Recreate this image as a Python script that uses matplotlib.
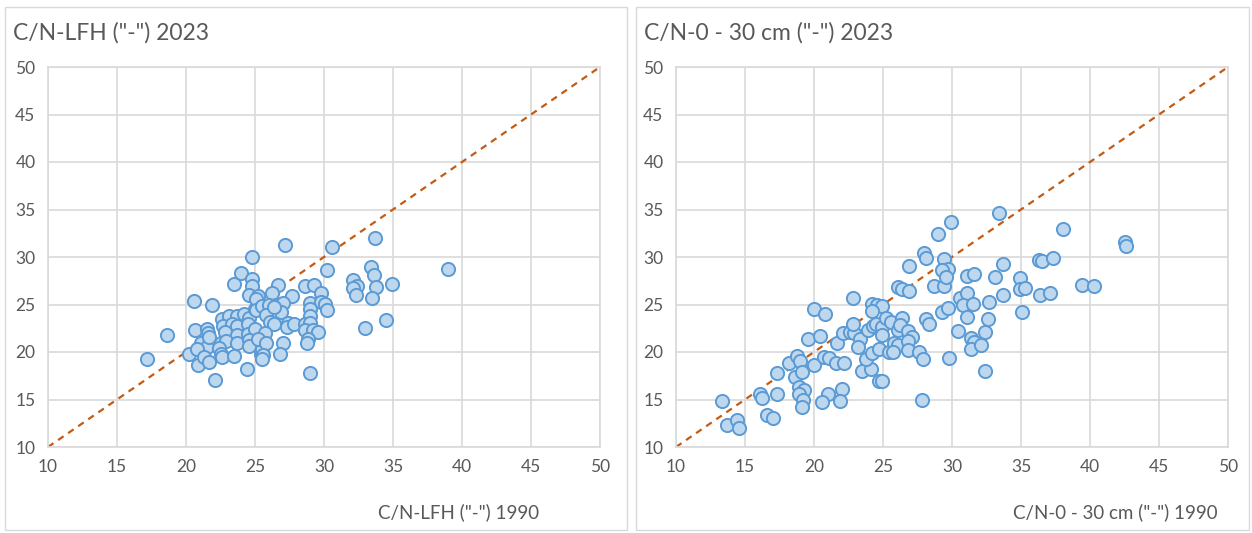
import matplotlib
matplotlib.use("Agg")
import matplotlib.pyplot as plt
from matplotlib.patches import Rectangle

plt.rcParams['font.family'] = ['Lato', 'DejaVu Sans']

# ---- data: left panel (C/N-LFH) ----
lfh_1990 = [17.2, 18.65, 20.2, 20.6, 20.65, 21.9, 20.85, 21.1, 21.5, 20.8,
            21.5, 21.6, 21.7, 21.3, 21.7, 22.1, 22.6, 23.1, 23.7, 24.2,
            24.6, 22.7, 23.3, 23.7, 24.5, 22.8, 23.7, 24.5, 25.0, 22.5,
            22.9, 22.4, 22.5, 22.6, 23.7, 24.6, 25.2, 24.6, 23.5, 25.4,
            25.5, 24.4, 23.45, 24.0, 24.75, 24.8, 24.8, 24.6, 25.2, 25.0,
            27.2, 30.6, 30.2, 26.7, 26.2, 27.7, 28.6, 29.3, 29.8, 29.0,
            29.8, 30.05, 30.2, 29.0, 29.0, 25.1, 25.1, 25.5, 26.0, 26.5,
            27.0, 25.8, 26.9, 26.4, 26.1, 26.4, 27.4, 27.3, 27.8, 28.6,
            29.0, 28.6, 29.2, 29.6, 28.85, 28.8, 25.7, 25.2, 25.8, 27.0,
            26.8, 25.6, 25.5, 29.0, 33.7, 32.1, 32.4, 32.1, 32.3, 33.4,
            33.6, 33.8, 33.5, 34.9, 33.0, 34.5, 39.0]
lfh_2023 = [19.3, 21.8, 19.75, 25.4, 22.3, 24.9, 18.6, 20.9, 20.5, 20.3,
            22.4, 22.0, 21.6, 19.5, 18.9, 17.1, 23.5, 23.8, 23.8, 23.95,
            23.6, 22.7, 22.9, 22.7, 22.9, 22.1, 21.75, 21.85, 22.45, 21.0,
            21.2, 20.45, 19.75, 19.5, 21.0, 21.3, 21.3, 20.6, 19.6, 19.75,
            20.3, 18.25, 27.2, 28.3, 30.0, 27.7, 26.9, 26.05, 25.9, 24.5,
            31.3, 31.1, 28.6, 27.1, 26.2, 25.9, 27.0, 27.1, 26.2, 25.2,
            25.3, 25.05, 24.4, 24.5, 23.8, 25.6, 24.4, 24.8, 25.0, 25.0,
            25.2, 23.9, 24.25, 24.7, 23.2, 23.0, 23.1, 22.6, 22.9, 23.0,
            23.1, 22.3, 22.3, 22.1, 21.4, 20.9, 22.05, 21.4, 20.9, 20.9,
            19.8, 19.7, 19.3, 17.8, 32.0, 27.6, 27.0, 26.7, 26.0, 28.9,
            28.1, 26.8, 25.7, 27.2, 22.55, 23.4, 28.7]

# ---- data: right panel (C/N 0-30 cm) ----
soil_1990 = [13.3, 13.7, 14.4, 14.6, 16.1, 16.2, 17.3, 16.6, 17.0, 17.3,
             18.2, 18.8, 19.0, 18.65, 19.1, 18.9, 19.3, 18.9, 19.2, 19.1,
             20.0, 20.7, 21.1, 21.6, 22.2, 21.0, 20.6, 22.0, 21.9, 19.6,
             20.4, 20.0, 20.8, 21.7, 22.1, 22.6, 22.9, 22.8, 22.8, 23.3,
             23.2, 23.5, 24.1, 23.8, 24.2, 24.7, 24.9, 23.9, 24.25, 24.5,
             24.9, 24.9, 24.2, 24.6, 24.9, 24.2, 25.2, 25.6, 24.7, 25.4,
             25.8, 26.1, 26.4, 26.1, 26.9, 26.9, 26.4, 26.2, 26.8, 27.1,
             26.1, 26.8, 26.8, 25.7, 27.6, 27.9, 27.8, 28.0, 28.1, 29.0,
             29.9, 28.7, 29.4, 29.4, 29.7, 29.3, 29.6, 28.1, 28.3, 29.3,
             29.7, 30.4, 29.8, 30.6, 31.1, 30.8, 31.5, 31.06, 31.06, 31.6,
             31.4, 31.6, 31.4, 32.1, 32.4, 32.7, 32.6, 32.4, 33.1, 33.7,
             33.4, 33.7, 34.9, 34.9, 35.3, 35.04, 36.3, 36.5, 37.3, 36.4,
             37.1, 38.05, 39.4, 40.3, 42.5, 42.6]
soil_2023 = [14.85, 12.3, 12.8, 12.0, 15.6, 15.2, 15.6, 13.4, 13.1, 17.8,
             18.85, 19.55, 19.1, 17.4, 17.9, 16.3, 16.05, 15.6, 15.0, 14.2,
             18.6, 19.45, 19.4, 18.85, 18.8, 15.6, 14.7, 16.15, 14.8, 21.4,
             21.7, 24.5, 24.0, 21.0, 22.0, 22.1, 22.0, 23.0, 25.7, 21.4,
             20.5, 18.0, 18.2, 19.3, 19.9, 17.0, 17.0, 22.3, 22.7, 22.9,
             22.6, 21.8, 25.1, 24.9, 24.8, 24.3, 23.6, 23.2, 20.3, 20.0,
             20.9, 26.8, 26.6, 22.3, 26.4, 29.1, 23.6, 22.8, 22.2, 21.6,
             20.7, 21.2, 20.2, 20.0, 20.0, 19.3, 14.9, 30.4, 29.9, 32.4,
             33.7, 27.0, 29.8, 27.0, 28.7, 28.6, 27.9, 23.5, 23.0, 24.2,
             24.6, 22.2, 19.4, 25.7, 26.2, 25.0, 25.1, 23.7, 28.0, 28.2,
             21.5, 21.1, 20.3, 20.7, 22.1, 25.3, 23.5, 18.0, 27.9, 29.3,
             34.6, 26.0, 27.8, 26.6, 26.7, 24.2, 29.7, 29.6, 29.9, 26.0,
             26.2, 33.0, 27.1, 27.0, 31.6, 31.2]

ticks = [10, 15, 20, 25, 30, 35, 40, 45, 50]
titles = ['C/N-LFH ("-") 2023', 'C/N-0 - 30 cm ("-") 2023']
xlabels = ['C/N-LFH ("-") 1990', 'C/N-0 - 30 cm ("-") 1990']

W, H = 1252, 533
fig = plt.figure(figsize=(W / 100, H / 100), dpi=100)
fig.patch.set_facecolor('white')

txt = '#595959'
grid = '#D9D9D9'

frames = [(5, 7, 627, 530), (636, 7, 1249, 530)]
axes_px = [(48, 67, 600, 447), (676, 67, 1228, 447)]
label_right = [539, 1218]
datasets = [(lfh_1990, lfh_2023), (soil_1990, soil_2023)]

for i in range(2):
    fx0, fy0, fx1, fy1 = frames[i]
    fig.patches.append(Rectangle((fx0 / W, 1 - fy1 / H), (fx1 - fx0) / W, (fy1 - fy0) / H,
                                 transform=fig.transFigure, fill=False,
                                 edgecolor=grid, linewidth=1.0))
    x0, y0, x1, y1 = axes_px[i]
    ax = fig.add_axes([x0 / W, 1 - y1 / H, (x1 - x0) / W, (y1 - y0) / H])
    ax.set_xlim(10, 50)
    ax.set_ylim(10, 50)
    ax.set_xticks(ticks)
    ax.set_yticks(ticks)
    ax.grid(True, color=grid, linewidth=1.2)
    ax.set_axisbelow(True)
    for s in ax.spines.values():
        s.set_color(grid)
        s.set_linewidth(1.2)
    ax.tick_params(length=0, labelsize=12.5, colors=txt, pad=9)
    ax.plot([10, 50], [10, 50], linestyle=(0, (3, 2.5)), color='#C55A11',
            linewidth=1.6, zorder=2)
    xs, ys = datasets[i]
    ax.scatter(xs, ys, s=90, facecolor='#BDD7EE', edgecolor='#5B9BD5',
               linewidth=1.4, zorder=3, clip_on=False)
    fig.text((fx0 + 8) / W, 1 - 33 / H, titles[i], fontsize=16.5, color=txt,
             ha='left', va='center')
    fig.text(label_right[i] / W, 1 - 512 / H, xlabels[i], fontsize=13.5, color=txt,
             ha='right', va='center')

fig.savefig('out.png', dpi=100)
